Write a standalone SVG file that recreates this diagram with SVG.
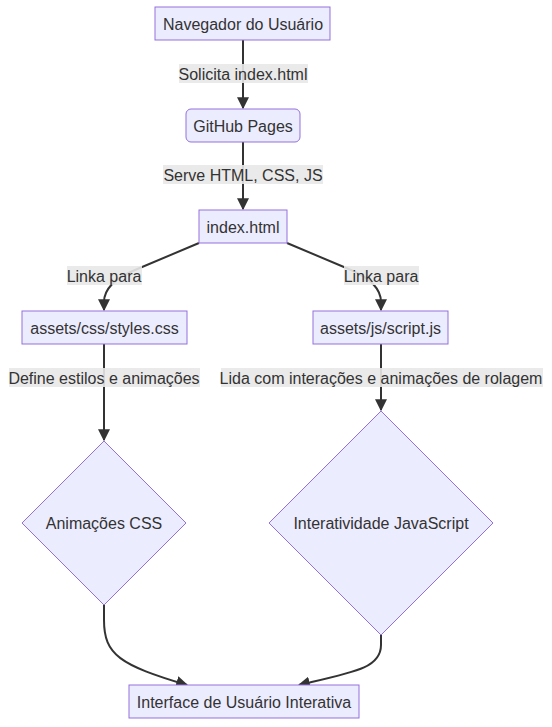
<svg xmlns="http://www.w3.org/2000/svg" width="552" height="727" viewBox="0 0 552 727">
<style>
.n{fill:#ECECFF;stroke:#9370DB;stroke-width:1}
.t{font-family:"Liberation Sans",Arial,sans-serif;font-size:16px;fill:#333;text-anchor:middle;dominant-baseline:central}
.lb{fill:#e8e8e8;opacity:0.9}
.e{fill:none;stroke:#333;stroke-width:2}
</style>
<defs>
<marker id="ah" viewBox="0 0 10 10" refX="9" refY="5" markerWidth="6" markerHeight="6" markerUnits="strokeWidth" orient="auto">
<path d="M0,0L10,5L0,10z" fill="#333"/>
</marker>
</defs>
<rect width="552" height="727" fill="#fff"/>
<g id="edges">
<path class="e" d="M243,40L243,108" marker-end="url(#ah)"/>
<path class="e" d="M243,142L243,209" marker-end="url(#ah)"/>
<path class="e" d="M199,243L135,270Q104,283 104,302L104,310" marker-end="url(#ah)"/>
<path class="e" d="M287,243L351,270Q381,283 381,302L381,310" marker-end="url(#ah)"/>
<path class="e" d="M104,344L104,440" marker-end="url(#ah)"/>
<path class="e" d="M381,344L381,410" marker-end="url(#ah)"/>
<path class="e" d="M104,605L104,620C104,655 120,665 187,685" marker-end="url(#ah)"/>
<path class="e" d="M381,635L381,645C381,668 355,672 299,685" marker-end="url(#ah)"/>
</g>
<g id="edge-labels">
<rect class="lb" x="179" y="64" width="129" height="19"/>
<text class="t" x="243" y="74">Solicita index.html</text>
<rect class="lb" x="163" y="165" width="160" height="19"/>
<text class="t" x="243" y="175">Serve HTML, CSS, JS</text>
<rect class="lb" x="67" y="266" width="75" height="19"/>
<text class="t" x="104" y="276">Linka para</text>
<rect class="lb" x="344" y="266" width="75" height="19"/>
<text class="t" x="381" y="276">Linka para</text>
<rect class="lb" x="9" y="368" width="191" height="19"/>
<text class="t" x="104" y="378">Define estilos e animações</text>
<rect class="lb" x="221" y="368" width="322" height="19"/>
<text class="t" x="381" y="378">Lida com interações e animações de rolagem</text>
</g>
<g id="A"><rect class="n" x="155" y="7" width="175" height="33"/><text class="t" x="243" y="24">Navegador do Usuário</text></g>
<g id="B"><rect class="n" x="186" y="109" width="114" height="33" rx="5"/><text class="t" x="243" y="126">GitHub Pages</text></g>
<g id="C"><rect class="n" x="199" y="210" width="88" height="33"/><text class="t" x="243" y="227">index.html</text></g>
<g id="D"><rect class="n" x="22" y="311" width="165" height="33"/><text class="t" x="104.5" y="328">assets/css/styles.css</text></g>
<g id="E"><rect class="n" x="313" y="311" width="135" height="33"/><text class="t" x="380.5" y="328">assets/js/script.js</text></g>
<g id="F"><polygon class="n" points="104,441 186,523 104,605 22,523"/><text class="t" x="104" y="523">Animações CSS</text></g>
<g id="G"><polygon class="n" points="381,411 493,523 381,635 269,523"/><text class="t" x="381" y="523">Interatividade JavaScript</text></g>
<g id="H"><rect class="n" x="129" y="685" width="230" height="33"/><text class="t" x="244" y="702">Interface de Usuário Interativa</text></g>
</svg>
